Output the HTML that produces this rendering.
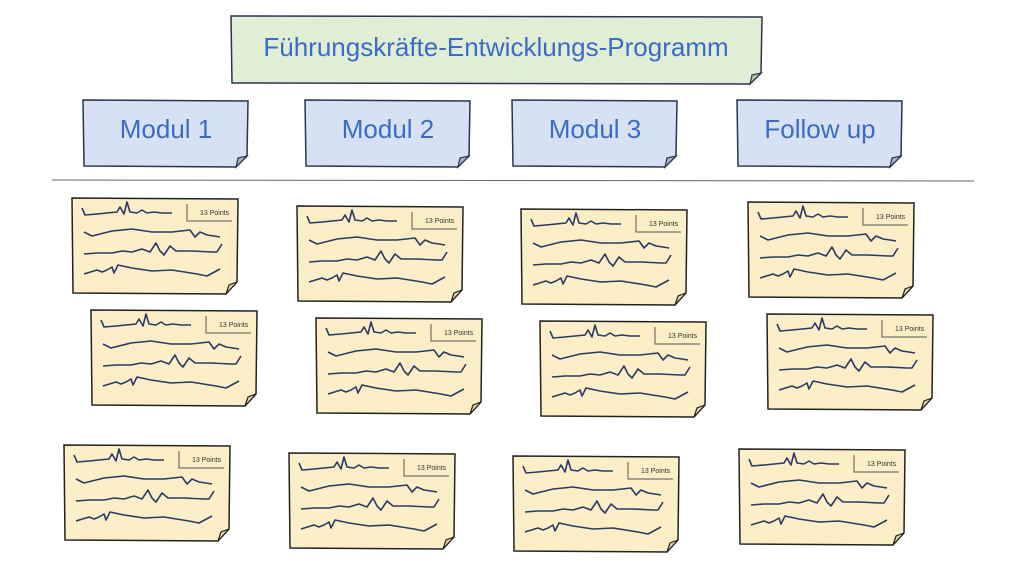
<!DOCTYPE html>
<html><head><meta charset="utf-8"><style>
html,body{margin:0;padding:0;background:#fff;}
svg{display:block;}
text{font-family:"Liberation Sans",sans-serif;}
</style></head><body>
<svg width="1025" height="577" viewBox="0 0 1025 577" xmlns="http://www.w3.org/2000/svg">
<defs>
<g id="card">
  <path d="M0,0 L166,1 L165,84 L154,96 L1,95 Z" fill="#fcefc7" stroke="#222" stroke-width="1.5"/>
  <path d="M154,96 L157,87 L165,84 Z" fill="#e6d6a8" stroke="#222" stroke-width="1.2"/>
  <path d="M115,6 L115,23 L160,23" fill="none" stroke="#555" stroke-width="1"/>
  <g fill="none" stroke="#2b3a66" stroke-width="1.6" stroke-linejoin="round">
    <path d="M10,10 L13,17 L25,16 L35,15 L45,14 L48,9 L52,16 L55,4 L58,14 L65,15 L70,12 L75,15 L82,14 L90,15 L100,15"/>
    <path d="M12,34 L20,38 L40,33 L60,31 L80,34 L100,34 L118,32 L123,39 L128,34 L135,37 L142,38 L148,39"/>
    <path d="M12,56 L25,55 L40,55 L50,53 L60,54 L70,51 L78,54 L84,45 L88,53 L92,57 L98,48 L104,53 L120,53 L140,54 L145,54 L150,46"/>
    <path d="M12,76 L25,72 L30,74 L35,72 L40,69 L42,75 L46,67 L60,70 L80,73 L100,72 L125,76 L135,78 L148,71"/>
  </g>
</g>
<g id="box">
  <path d="M0,0 L165,1 L164,56 L153,67 L1,66 Z" fill="#d7e1f4" stroke="#2a3550" stroke-width="1.5"/>
  <path d="M153,67 L155,58 L164,56 Z" fill="#a9b4c8" stroke="#2a3550" stroke-width="1.2"/>
</g>
</defs>
<path d="M231,16 L762,17 L761,73 L750,84 L232,83 Z" fill="#e1eed6" stroke="#2a3550" stroke-width="1.5"/>
<path d="M750,84 L752,75 L761,73 Z" fill="#b5c2a8" stroke="#2a3550" stroke-width="1.2"/>
<text x="496" y="56" font-size="26" fill="#3b6cc5" text-anchor="middle">Führungskräfte-Entwicklungs-Programm</text>

<use href="#box" x="83" y="100"/><text x="166" y="138" font-size="26" fill="#3b6cc5" text-anchor="middle">Modul 1</text>
<use href="#box" x="305" y="100"/><text x="388" y="138" font-size="26" fill="#3b6cc5" text-anchor="middle">Modul 2</text>
<use href="#box" x="512" y="100"/><text x="595" y="138" font-size="26" fill="#3b6cc5" text-anchor="middle">Modul 3</text>
<use href="#box" x="737" y="100"/><text x="820" y="138" font-size="26" fill="#3b6cc5" text-anchor="middle">Follow up</text>

<line x1="52" y1="180" x2="974" y2="181" stroke="#666" stroke-width="1"/>

<g font-size="7" fill="#333">
<use href="#card" x="72" y="198"/><text x="200" y="215">13 Points</text>
<use href="#card" x="297" y="206"/><text x="425" y="223">13 Points</text>
<use href="#card" x="521" y="209"/><text x="649" y="226">13 Points</text>
<use href="#card" x="748" y="202"/><text x="876" y="219">13 Points</text>
<use href="#card" x="91" y="310"/><text x="219" y="327">13 Points</text>
<use href="#card" x="316" y="318"/><text x="444" y="335">13 Points</text>
<use href="#card" x="540" y="321"/><text x="668" y="338">13 Points</text>
<use href="#card" x="767" y="314"/><text x="895" y="331">13 Points</text>
<use href="#card" x="64" y="445"/><text x="192" y="462">13 Points</text>
<use href="#card" x="289" y="453"/><text x="417" y="470">13 Points</text>
<use href="#card" x="513" y="456"/><text x="641" y="473">13 Points</text>
<use href="#card" x="739" y="449"/><text x="867" y="466">13 Points</text>
</g>
</svg>
</body></html>
